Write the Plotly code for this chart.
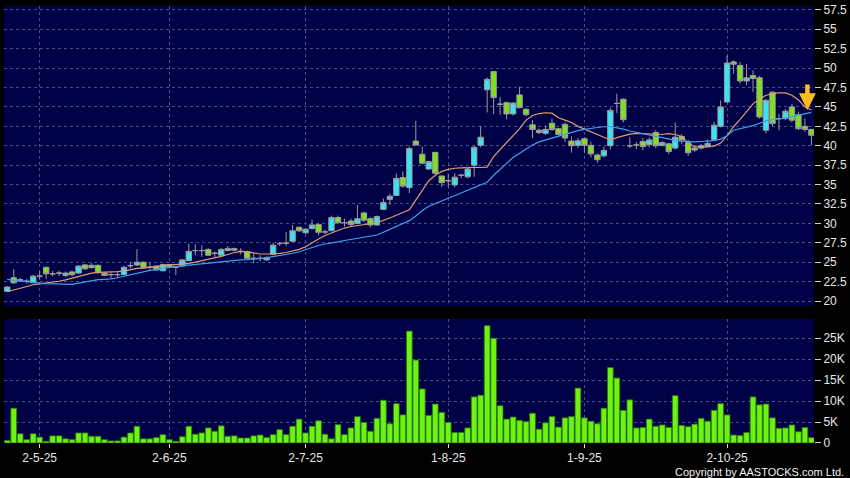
import pandas as pd
import plotly.graph_objects as go

# trading days (HK holidays removed) -> 125 sessions
holidays = ["2025-05-01", "2025-05-05", "2025-07-01", "2025-10-01", "2025-10-07"]
dates = [d.strftime("%Y-%m-%d") for d in pd.bdate_range("2025-04-24", "2025-10-22")
         if d.strftime("%Y-%m-%d") not in holidays]

open_ = [21.25, 23.0, 22.6, 22.55, 22.35, 23.2, 24.35, 23.5, 23.6, 23.3,
         23.75, 23.6, 24.65, 24.3, 24.6, 23.6, 23.4, 23.4, 23.4, 24.55,
         24.65, 25.0, 24.35, 24.5, 23.9, 24.7, 24.35, 24.5, 25.2, 26.5,
         26.5, 26.65, 26.15, 25.9, 26.5, 26.75, 26.4, 26.35, 25.5, 25.5,
         25.3, 26.0, 27.4, 27.45, 27.7, 29.5, 28.8, 29.35, 29.85, 28.9,
         29.05, 30.75, 30.1, 30.3, 30.0, 31.35, 30.6, 29.8, 31.8, 33.1,
         33.6, 35.9, 34.6, 40.6, 38.9, 37.0, 39.15, 36.1, 35.5, 34.95,
         36.2, 36.0, 37.5, 40.05, 47.2, 49.55, 45.35, 45.55, 44.1, 46.55,
         44.7, 42.7, 42.0, 41.6, 42.9, 42.2, 42.75, 40.6, 40.05, 40.9,
         40.05, 38.8, 38.7, 40.0, 45.45, 46.0, 40.0, 40.1, 40.55, 40.15,
         41.7, 40.05, 40.25, 39.7, 41.2, 40.4, 39.7, 39.7, 39.95, 40.8,
         42.5, 45.65, 50.8, 50.35, 48.35, 49.05, 48.75, 42.0, 46.9, 43.5,
         43.5, 45.0, 44.0, 42.5, 42.1]
high = [21.9, 24.1, 23.0, 22.85, 23.4, 23.85, 24.4, 23.85, 23.9, 23.8,
        23.9, 24.6, 24.75, 24.9, 24.7, 23.7, 23.7, 23.7, 24.55, 25.05,
        26.7, 25.1, 25.0, 24.6, 24.8, 24.8, 24.5, 25.4, 27.4, 27.3,
        27.2, 26.8, 26.4, 26.8, 27.1, 26.9, 26.8, 26.5, 26.15, 25.9,
        25.75, 27.5, 27.6, 28.9, 29.8, 29.6, 29.4, 30.5, 30.0, 29.2,
        31.0, 31.0, 30.6, 30.6, 32.4, 31.5, 30.8, 31.0, 33.2, 33.85,
        36.4, 36.7, 39.9, 43.2, 39.9, 38.1, 39.2, 36.2, 36.4, 36.45,
        36.4, 37.2, 40.0, 42.55, 48.8, 49.6, 46.3, 45.7, 45.6, 47.6,
        44.8, 43.3, 42.2, 42.6, 43.5, 42.3, 43.0, 41.2, 41.0, 41.1,
        40.5, 39.0, 39.9, 44.9, 46.7, 46.1, 41.1, 40.5, 41.0, 41.1,
        42.0, 40.6, 40.4, 43.0, 41.5, 40.75, 40.0, 40.2, 40.8, 43.1,
        45.85, 51.6, 51.0, 50.8, 50.55, 49.7, 49.0, 46.0, 47.0, 44.1,
        44.7, 45.4, 44.4, 43.5, 42.2]
low = [21.2, 22.2, 22.45, 22.25, 22.3, 22.75, 22.85, 23.2, 23.2, 23.1,
       23.2, 23.5, 24.0, 24.2, 23.55, 23.2, 23.0, 23.0, 23.3, 24.2,
       24.5, 24.2, 23.9, 23.9, 23.8, 24.3, 23.35, 24.4, 25.1, 25.9,
       25.7, 25.8, 25.6, 25.8, 26.4, 26.4, 26.0, 25.4, 24.85, 25.1,
       25.2, 25.9, 27.1, 27.1, 27.6, 28.9, 28.6, 29.2, 28.5, 28.6,
       29.0, 29.9, 29.6, 29.6, 29.9, 30.2, 29.5, 29.7, 31.7, 32.4,
       33.5, 34.6, 33.9, 40.0, 37.6, 36.9, 36.3, 34.7, 34.75, 34.65,
       35.8, 35.8, 36.0, 39.8, 44.3, 44.1, 44.0, 43.4, 43.9, 44.8,
       43.8, 41.0, 41.5, 41.4, 41.9, 41.3, 40.5, 39.1, 39.7, 39.1,
       38.5, 37.8, 38.5, 39.55, 44.2, 43.0, 39.7, 39.55, 39.4, 39.8,
       39.7, 39.9, 38.95, 39.5, 40.2, 38.7, 39.2, 39.5, 39.8, 40.6,
       42.35, 45.5, 49.3, 48.0, 47.8, 46.9, 43.5, 41.6, 42.5, 42.0,
       43.3, 43.0, 42.0, 41.8, 40.1]
close = [21.8, 22.35, 22.75, 22.55, 23.2, 23.2, 23.5, 23.5, 23.6, 23.6,
         23.4, 24.5, 24.15, 24.6, 23.65, 23.3, 23.4, 23.4, 24.35, 24.55,
         25.0, 24.3, 24.35, 24.0, 24.7, 24.4, 24.35, 25.3, 26.4, 26.5,
         26.5, 25.9, 26.15, 26.65, 26.75, 26.55, 26.4, 25.5, 25.5, 25.5,
         25.6, 27.2, 27.4, 27.45, 29.05, 29.05, 29.25, 29.8, 28.85, 28.9,
         30.75, 30.1, 30.1, 29.85, 30.6, 30.4, 29.8, 30.9, 32.7, 33.5,
         35.8, 34.8, 39.65, 40.1, 37.75, 37.95, 36.45, 35.25, 35.5, 35.95,
         36.2, 37.0, 39.8, 41.1, 48.55, 46.2, 45.35, 44.1, 45.5, 44.9,
         44.0, 42.1, 41.7, 42.1, 42.1, 41.45, 41.0, 40.0, 40.65, 40.05,
         38.95, 38.2, 39.4, 44.55, 45.45, 43.35, 40.0, 40.1, 39.9, 40.75,
         40.0, 40.4, 39.25, 41.1, 40.75, 39.1, 39.45, 40.0, 40.3, 42.65,
         45.0, 50.65, 50.5, 48.35, 48.75, 48.65, 43.7, 45.85, 42.85, 43.5,
         44.45, 43.3, 42.2, 42.1, 41.35]

ma_fast = [21.2, 21.45, 21.68, 21.9, 22.1, 22.2, 22.3, 22.4, 22.55, 22.72,
           22.95, 23.2, 23.45, 23.6, 23.7, 23.7, 23.7, 23.78, 23.85, 24.0,
           24.2, 24.25, 24.38, 24.5, 24.55, 24.62, 24.67, 24.76, 24.85, 25.0,
           25.17, 25.35, 25.55, 25.75, 26.0, 26.25, 26.36, 26.36, 26.2, 26.06,
           26.06, 26.06, 26.15, 26.25, 26.45, 26.65, 27.0, 27.55, 28.0, 28.45,
           28.8, 29.1, 29.4, 29.6, 29.7, 29.8, 29.95, 30.1, 30.35, 30.7,
           31.05, 31.4, 31.75, 33.0, 34.2, 35.5, 36.2, 36.7, 36.95, 37.1,
           37.15, 37.2, 37.2, 37.2, 37.25, 38.6, 39.5, 40.3, 41.3, 42.2,
           43.3, 43.9, 44.15, 44.25, 44.2, 43.6, 43.3, 43.0, 42.5, 42.15,
           41.8, 41.35, 41.0, 40.75, 41.05, 41.3, 41.5, 41.6, 41.55, 41.5,
           41.45, 41.45, 41.55, 41.45, 41.2, 40.3, 39.9, 39.85, 39.85, 39.95,
           40.35, 41.3, 42.45, 43.4, 44.4, 45.4, 46.0, 46.5, 46.7, 46.8,
           46.8, 46.5, 45.9, 45.0, 44.6]
ma_slow = [22.8, 22.7, 22.55, 22.45, 22.35, 22.3, 22.25, 22.22, 22.15, 22.1,
           22.15, 22.3, 22.45, 22.62, 22.76, 22.8, 22.85, 23.0, 23.2, 23.45,
           23.65, 23.8, 23.95, 24.08, 24.22, 24.36, 24.46, 24.55, 24.63, 24.72,
           24.8, 24.88, 24.96, 25.05, 25.15, 25.25, 25.3, 25.33, 25.36, 25.45,
           25.6, 25.72, 25.85, 26.0, 26.15, 26.35, 26.6, 26.95, 27.15, 27.35,
           27.45, 27.62, 27.8, 27.95, 28.1, 28.22, 28.35, 28.5, 28.85, 29.2,
           29.6, 29.95, 30.35, 30.95, 31.65, 32.2, 32.55, 32.9, 33.2, 33.5,
           33.9, 34.3, 34.6, 34.9, 35.3, 36.2, 37.0, 37.8, 38.5, 39.05,
           39.6, 40.1, 40.5, 40.75, 40.95, 41.3, 41.55, 41.8, 41.95, 42.1,
           42.25, 42.35, 42.45, 42.45, 42.3, 42.15, 41.9, 41.7, 41.5, 41.35,
           41.2, 41.05, 40.85, 40.7, 40.6, 40.55, 40.5, 40.55, 40.6, 40.65,
           40.85, 41.3, 42.0, 42.2, 42.4, 42.6, 42.9, 43.2, 43.35, 43.45,
           43.55, 43.75, 43.95, 44.1, 44.3]

# volume in thousands of shares
volume_k = [0.6, 8.3, 2.2, 0.8, 2.2, 1.4, 0.4, 1.7, 1.7, 1.0,
            0.8, 2.4, 2.4, 1.6, 1.6, 0.8, 0.5, 0.5, 1.4, 2.4,
            4.0, 1.0, 1.0, 1.3, 2.0, 0.8, 0.4, 1.5, 4.0, 2.1,
            2.4, 3.6, 2.8, 4.1, 1.6, 1.7, 1.2, 1.2, 1.7, 1.9,
            1.3, 2.0, 3.2, 2.0, 4.0, 5.7, 2.4, 4.0, 5.3, 2.1,
            1.0, 4.4, 2.0, 3.6, 6.3, 4.9, 2.8, 5.9, 10.2, 4.6,
            9.4, 6.7, 26.7, 19.8, 12.9, 6.6, 9.3, 7.3, 4.9, 2.5,
            2.5, 3.6, 11.0, 11.4, 28.0, 25.0, 8.9, 5.7, 6.2, 5.4,
            5.1, 7.1, 3.3, 4.8, 6.3, 3.8, 6.0, 6.3, 13.1, 6.0,
            5.2, 4.6, 8.3, 18.0, 15.5, 7.8, 10.3, 3.6, 3.7, 5.7,
            4.0, 4.3, 3.7, 11.3, 4.2, 3.9, 4.5, 5.9, 5.2, 7.8,
            9.4, 6.7, 1.9, 1.8, 2.5, 11.0, 9.1, 9.3, 6.0, 3.5,
            3.6, 4.3, 2.7, 3.7, 1.3]

tick_dates = ["2025-05-02", "2025-06-02", "2025-07-02", "2025-08-01", "2025-09-01", "2025-10-02"]
tick_labels = ["2-5-25", "2-6-25", "2-7-25", "1-8-25", "1-9-25", "2-10-25"]
price_ticks = [20, 22.5, 25, 27.5, 30, 32.5, 35, 37.5, 40, 42.5, 45, 47.5, 50, 52.5, 55, 57.5]
price_labels = ["20", "22.5", "25", "27.5", "30", "32.5", "35", "37.5", "40",
                "42.5", "45", "47.5", "50", "52.5", "55", "57.5"]
vol_ticks = [0, 5, 10, 15, 20, 25]
vol_labels = ["0", "5K", "10K", "15K", "20K", "25K"]

navy = "#000046"
grid = "#4d4d85"
font = dict(family="Liberation Sans, Arial", size=12, color="#e6e6e6")

fig = go.Figure()

# candles
fig.add_trace(go.Candlestick(
    x=dates, open=open_, high=high, low=low, close=close,
    increasing=dict(fillcolor="#38e4f2", line=dict(color="#9c9c9c", width=1)),
    decreasing=dict(fillcolor="#80e020", line=dict(color="#9c9c9c", width=1)),
    whiskerwidth=0, xaxis="x", yaxis="y", showlegend=False))

# moving averages
fig.add_trace(go.Scatter(x=dates, y=ma_fast, mode="lines",
                         line=dict(color="#e39a72", width=1.2), showlegend=False))
fig.add_trace(go.Scatter(x=dates, y=ma_slow, mode="lines",
                         line=dict(color="#3fa0ea", width=1.2), showlegend=False))

# volume
fig.add_trace(go.Bar(x=dates, y=volume_k, xaxis="x2", yaxis="y2",
                     marker=dict(color="#6cf214", line=dict(color="#2f7a00", width=0.8)),
                     showlegend=False))

# arrow marker pointing at latest MA
fig.add_annotation(x=dates[-1], y=ma_fast[-1], xref="x", yref="y", text="",
                   showarrow=True, ax=0, ay=-27, arrowhead=2, arrowsize=0.75,
                   arrowwidth=4.5, arrowcolor="#ffbf1a", xshift=-4, standoff=0)

fig.add_annotation(text="Copyright by AASTOCKS.com Ltd.", xref="paper", yref="paper",
                   x=1.04, y=-0.066, xanchor="right", yanchor="middle", showarrow=False,
                   font=dict(family="Liberation Sans, Arial", size=11, color="#f0f0f0"))

xcommon = dict(type="category", range=[-0.5, 124.4], showgrid=True, gridcolor=grid,
               griddash="3px,3px", gridwidth=1, zeroline=False, showline=False,
               tickvals=tick_dates, ticktext=tick_labels, tickfont=font,
               rangeslider=dict(visible=False))

fig.update_layout(
    width=850, height=478,
    margin=dict(l=4, r=36, t=6, b=35),
    paper_bgcolor="#000000", plot_bgcolor=navy,
    bargap=0.12, boxgap=0.1, boxgroupgap=0.08,
    xaxis=dict(xcommon, anchor="y", showticklabels=False, ticks=""),
    xaxis2=dict(xcommon, anchor="y2", matches="x", ticks="outside", ticklen=4,
                tickcolor="#dddddd"),
    yaxis=dict(domain=[0.3135, 1], range=[19.36, 58.0], side="right",
               tickvals=price_ticks, ticktext=price_labels, tickfont=font,
               ticks="outside", ticklen=6, tickcolor="#cfcfcf",
               showgrid=True, gridcolor=grid, griddash="3px,3px", zeroline=False),
    yaxis2=dict(domain=[0, 0.2838], range=[0, 29.6], side="right",
                tickvals=vol_ticks, ticktext=vol_labels, tickfont=font,
                ticks="outside", ticklen=6, tickcolor="#cfcfcf",
                showgrid=True, gridcolor=grid, griddash="3px,3px", zeroline=False),
    hovermode=False,
)

# page body has a default 8px margin; remove it so the figure sits at the corner
fig.write_html("out.html", config={"displayModeBar": False},
               post_script="document.body.style.margin='0px';")
